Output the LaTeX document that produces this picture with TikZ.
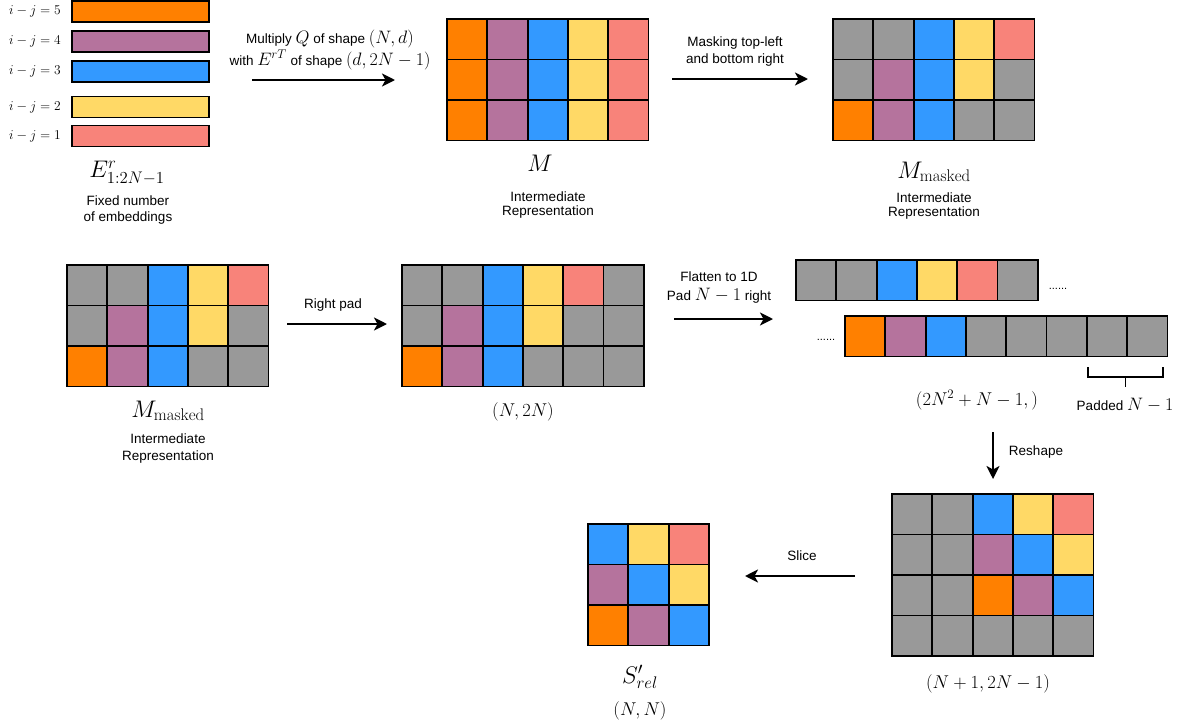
\RequirePackage{fix-cm}
\documentclass[tikz,border=0pt]{standalone}
\usepackage{fontspec}
\setsansfont{Liberation Sans}
\usepackage{tikz}
\usetikzlibrary{arrows.meta}

\definecolor{cOr}{HTML}{FF8000}
\definecolor{cPu}{HTML}{B5739D}
\definecolor{cBl}{HTML}{3399FF}
\definecolor{cYe}{HTML}{FFD966}
\definecolor{cSa}{HTML}{F8837A}
\definecolor{cGy}{HTML}{999999}

% math set larger inside the sans labels
\newcommand{\lgm}[1]{{\fontsize{18}{20}\selectfont$#1$}}

% one block of cells: name, left, top, rows of colours
\newcommand{\cellgrid}[4]{%
  \foreach \rowlist [count=\r] in {#4} {
    \foreach \c [count=\k] in \rowlist {
      \node[cell, fill=c\c] (#1-\r-\k) at ({#2+(\k-0.5)*40.3}, {#3+(\r-0.5)*40.5}) {};
    }
  }%
}

\tikzset{
  cell/.style={draw=black, line width=1.8pt, minimum width=40.3pt,
               minimum height=40.5pt, inner sep=0pt, outer sep=0pt},
  embbar/.style={draw=black, line width=1.8pt, minimum width=137pt,
                 minimum height=21pt, inner sep=0pt},
  flow/.style={-{Stealth[length=13pt,width=13pt,inset=3.5pt]}, line width=2.6pt},
  txt/.style={font=\sffamily\fontsize{13.5}{16}\selectfont, align=center, inner sep=0pt},
  idx/.style={font=\fontsize{13.5}{15}\selectfont, inner sep=0pt},
  bigsym/.style={font=\fontsize{24}{26}\selectfont, inner sep=0pt},
  dimlbl/.style={font=\fontsize{18.5}{20}\selectfont, inner sep=0pt},
  dots/.style={font=\sffamily\fontsize{11}{13}\selectfont, inner sep=0pt},
}

\begin{document}
\begin{tikzpicture}[x=1pt, y=-1pt]

    \useasboundingbox (0,0) rectangle (1181,726);

    % embeddings
    \node[idx]              (lbl5) at (35,11.5)  {$i-j=5$};
    \node[idx]              (lbl4) at (35,41.5)  {$i-j=4$};
    \node[idx]              (lbl3) at (35,71.5)  {$i-j=3$};
    \node[idx]              (lbl2) at (35,107)   {$i-j=2$};
    \node[idx]              (lbl1) at (35,136)   {$i-j=1$};
    \node[embbar, fill=cOr] (emb5) at (140.5,11.5) {};
    \node[embbar, fill=cPu] (emb4) at (140.5,41.5) {};
    \node[embbar, fill=cBl] (emb3) at (140.5,71.5) {};
    \node[embbar, fill=cYe] (emb2) at (140.5,107)  {};
    \node[embbar, fill=cSa] (emb1) at (140.5,136)  {};
    \node[bigsym] (Elbl) at (127,173) {$E^{r}_{1:2N-1}$};
    \node[txt]    (Etxt) at (128,210) {Fixed number\\of embeddings};

    \coordinate (a1s) at (252,80);
    \coordinate (a1e) at (395,80);
    \draw[flow] (a1s) -- (a1e);
    \node[txt, font=\sffamily\fontsize{13.5}{22}\selectfont] (a1lbl) at (330,50)
        {Multiply \lgm{Q} of shape \lgm{(N,d)}\\with \lgm{E^{rT}} of shape \lgm{(d,2N-1)}};

    % M
    \cellgrid{M}{447}{19}{{Or,Pu,Bl,Ye,Sa},{Or,Pu,Bl,Ye,Sa},{Or,Pu,Bl,Ye,Sa}}
    \node[bigsym] (Mlbl) at (540,163) {$M$};
    \node[txt, font=\sffamily\fontsize{13.5}{14.5}\selectfont] (Mtxt) at (548,205)
        {Intermediate\\Representation};

    \coordinate (a2s) at (672,79);
    \coordinate (a2e) at (808,79);
    \draw[flow] (a2s) -- (a2e);
    \node[txt, font=\sffamily\fontsize{13.5}{17}\selectfont] (a2lbl) at (735,52)
        {Masking top-left\\and bottom right};

    % M masked, top
    \cellgrid{Mt}{833}{19}{{Gy,Gy,Bl,Ye,Sa},{Gy,Pu,Bl,Ye,Gy},{Or,Pu,Bl,Gy,Gy}}
    \node[bigsym] (Mtlbl) at (934,172) {$M_{\mathrm{masked}}$};
    \node[txt, font=\sffamily\fontsize{13.5}{14.5}\selectfont] (Mttxt) at (934,206)
        {Intermediate\\Representation};

    % M masked, second row
    \cellgrid{Ml}{67}{265}{{Gy,Gy,Bl,Ye,Sa},{Gy,Pu,Bl,Ye,Gy},{Or,Pu,Bl,Gy,Gy}}
    \node[bigsym] (Mllbl) at (168,411) {$M_{\mathrm{masked}}$};
    \node[txt, font=\sffamily\fontsize{13.5}{17}\selectfont] (Mltxt) at (168,449)
        {Intermediate\\Representation};

    \coordinate (a3s) at (287,324);
    \coordinate (a3e) at (387,324);
    \draw[flow] (a3s) -- (a3e);
    \node[txt] (a3lbl) at (333,305) {Right pad};

    % padded
    \cellgrid{P}{402}{265}{{Gy,Gy,Bl,Ye,Sa,Gy},{Gy,Pu,Bl,Ye,Gy,Gy},{Or,Pu,Bl,Gy,Gy,Gy}}
    \node[dimlbl] (Pdim) at (523,412) {$(N,2N)$};

    \coordinate (a4s) at (674,319);
    \coordinate (a4e) at (773,319);
    \draw[flow] (a4s) -- (a4e);
    \node[txt, font=\sffamily\fontsize{13.5}{19}\selectfont] (a4lbl) at (719,288)
        {Flatten to 1D\\Pad \lgm{N-1} right};

    % flattened
    \cellgrid{F}{796}{260}{{Gy,Gy,Bl,Ye,Sa,Gy}}
    \node[dots] (dotsA) at (1058,289) {......};
    \node[dots] (dotsB) at (826,340)  {......};
    \cellgrid{G}{845}{316}{{Or,Pu,Bl,Gy,Gy,Gy,Gy,Gy}}
    \draw[line width=1.6pt] (1088,367) -- (1088,377) -- (1163,377) -- (1163,367);
    \draw[line width=1.6pt] (1125.5,377) -- (1125.5,387);
    \node[txt]    (padlbl)  at (1125,405) {Padded \lgm{N-1}};
    \node[dimlbl] (flatdim) at (977,400)  {$(2N^2+N-1,)$};

    \coordinate (a5s) at (993,432);
    \coordinate (a5e) at (993,479);
    \draw[flow] (a5s) -- (a5e);
    \node[txt] (a5lbl) at (1036,452) {Reshape};

    % reshaped
    \cellgrid{R}{892}{494}{{Gy,Gy,Bl,Ye,Sa},{Gy,Gy,Pu,Bl,Ye},{Gy,Gy,Or,Pu,Bl},{Gy,Gy,Gy,Gy,Gy}}
    \node[dimlbl] (Rdim) at (988,684) {$(N+1,2N-1)$};

    \coordinate (a6s) at (855,576);
    \coordinate (a6e) at (745,576);
    \draw[flow] (a6s) -- (a6e);
    \node[txt] (a6lbl) at (802,556) {Slice};

    % sliced result
    \cellgrid{S}{588}{524}{{Bl,Ye,Sa},{Pu,Bl,Ye},{Or,Pu,Bl}}
    \node[bigsym] (Slbl) at (640,677) {$S'_{rel}$};
    \node[dimlbl] (Sdim) at (640,711) {$(N,N)$};

\end{tikzpicture}
\end{document}
